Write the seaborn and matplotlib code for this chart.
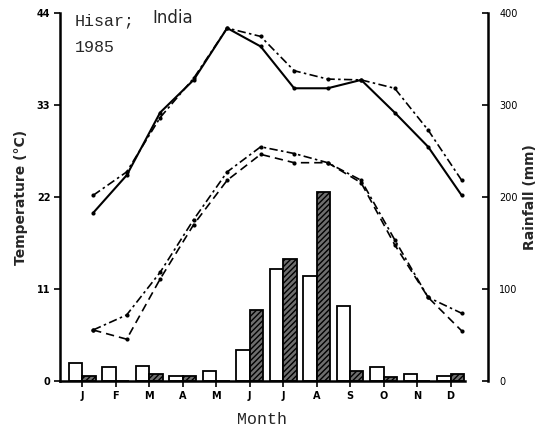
import numpy as np
import pandas as pd
import matplotlib
matplotlib.use("Agg")
import matplotlib.pyplot as plt
import seaborn as sns

# ---- data ----
months = ["J", "F", "M", "A", "M", "J", "J", "A", "S", "O", "N", "D"]
tmax_solid = [20.1, 24.6, 32.1, 36.0, 42.2, 40.0, 35.0, 35.0, 36.0, 32.1, 28.0, 22.2]
tmax_dashdot = [22.2, 25.0, 31.5, 36.2, 42.2, 41.2, 37.1, 36.1, 36.0, 35.0, 30.0, 24.0]
tmin_dashdot = [6.1, 7.9, 13.0, 19.3, 25.0, 28.0, 27.2, 26.1, 24.0, 16.9, 10.0, 8.1]
tmin_dashed = [6.1, 5.0, 12.2, 18.7, 24.0, 27.1, 26.1, 26.1, 23.7, 16.3, 10.0, 6.0]
rain_white = [20, 15, 16, 5, 11, 34, 122, 114, 81, 15, 8, 5]
rain_hatched = [5, 0, 8, 5, 0, 77, 133, 205, 11, 4, 0, 8]
temp_ticks = [0, 11, 22, 33, 44]
rain_ticks = [0, 100, 200, 300, 400]

sns.set_style("ticks")
plt.rcParams["font.family"] = ["DejaVu Sans"]

fig = plt.figure(figsize=(5.53, 4.30), dpi=100)
ax = fig.add_axes([60 / 553, 1 - 381 / 430, (465 - 60) / 553, (381 - 13) / 430])
ax2 = ax.twinx()

# ---- rainfall bars ----
idx = list(range(12))
df = pd.DataFrame({
    "m": idx + idx,
    "rain": rain_white + rain_hatched,
    "series": ["a"] * 12 + ["b"] * 12,
})
sns.barplot(data=df, x="m", y="rain", hue="series", ax=ax2,
            palette=["white", "#6e6e6e"], edgecolor="black", linewidth=1.3,
            legend=False, width=0.8, saturation=1)
for p in ax2.patches[12:]:
    p.set_hatch("//////")

# ---- temperature lines ----
xs = np.arange(12) + 0.33
styles = [
    (tmax_solid, "-", 1.5),
    (tmax_dashdot, (0, (5, 2, 1.5, 2)), 1.2),
    (tmin_dashdot, (0, (5, 2, 1.5, 2)), 1.2),
    (tmin_dashed, (0, (5, 3)), 1.2),
]
for vals, ls, lw in styles:
    sns.lineplot(x=xs, y=vals, ax=ax, color="black", linestyle=ls, linewidth=lw,
                 marker="o", markersize=3, markeredgewidth=0)

ax.set_zorder(ax2.get_zorder() + 1)
ax.patch.set_visible(False)

ax.set_xlim(-0.66, 11.43)
ax.set_ylim(0, 44)
ax2.set_ylim(0, 400)

ax.set_xticks(range(12))
ax.set_xticklabels(months)
ax.set_yticks(temp_ticks)
ax.set_yticklabels([str(t) for t in temp_ticks])
ax2.set_yticks(rain_ticks)
ax2.set_yticklabels([str(t) for t in rain_ticks])

ax.tick_params(axis="both", direction="out", length=4, width=1.2, pad=3,
               colors="black", labelsize=7)
ax2.tick_params(axis="y", direction="in", length=4, width=1.2, pad=8,
                colors="black", labelsize=7)
ax2.tick_params(axis="x", bottom=False, labelbottom=False)
for lab in ax.get_xticklabels() + ax.get_yticklabels() + ax2.get_yticklabels():
    lab.set_fontweight("bold")
    lab.set_fontsize(7)

for s in ["top", "right"]:
    ax.spines[s].set_visible(False)
for s in ["top", "left", "bottom"]:
    ax2.spines[s].set_visible(False)
ax2.spines["right"].set_position(("outward", 23 * 0.72))
for sp in [ax.spines["left"], ax.spines["bottom"], ax2.spines["right"]]:
    sp.set_linewidth(1.8)
    sp.set_color("black")

ax.set_xlabel("Month", fontsize=12, family="Liberation Mono", labelpad=8)
ax.set_ylabel("Temperature (°C)", fontsize=10, fontweight="bold", labelpad=6)
ax2.set_ylabel("Rainfall (mm)", fontsize=10, fontweight="bold", labelpad=4)
ax2.set_xlabel("")

fig.text(75 / 553, 1 - 21 / 430, "Hisar;", family="Liberation Mono", fontsize=12, va="center")
fig.text(75 / 553, 1 - 48 / 430, "1985", family="Liberation Mono", fontsize=12, va="center")
fig.text(152 / 553, 1 - 18 / 430, "India", fontsize=12, va="center")

fig.savefig("out.png", dpi=100)
